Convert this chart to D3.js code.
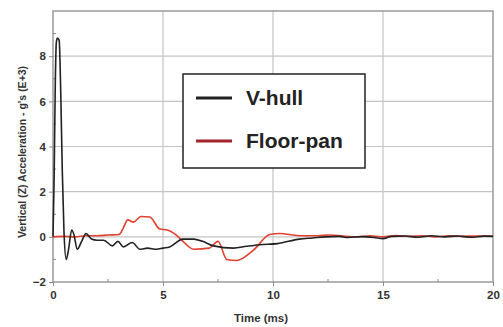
<!DOCTYPE html>
<html>
<head>
<meta charset="utf-8">
<script src="https://cdn.jsdelivr.net/npm/d3@7"></script>
<style>
  body { margin: 0; background: #fff; }
  text { font-family: "Liberation Sans", Arial, sans-serif; }
</style>
</head>
<body>
<svg id="chart" width="503" height="327"></svg>
<script>
// data (time in ms, acceleration in g's E+3)
const xTicks = [0, 5, 10, 15, 20];
const yTicks = [-2, 0, 2, 4, 6, 8];
const seriesNames = ["V-hull", "Floor-pan"];

const vhullT = [0, 0.05, 0.1, 0.15, 0.2, 0.28, 0.35, 0.42, 0.5, 0.6, 0.7, 0.85, 0.95, 1.1, 1.3, 1.5, 1.75, 2.0, 2.3, 2.7, 2.95, 3.2, 3.6, 3.95, 4.3, 4.7, 5.0, 5.3, 5.9, 6.4, 6.8, 7.3, 8.2, 8.8, 9.4, 10.2, 11.2, 11.8, 12.4, 13.0, 13.4, 14.0, 14.6, 15.0, 15.4, 16.0, 16.6, 17.2, 17.8, 18.4, 19.0, 19.6, 20];
const vhullG = [0, 2.5, 6.5, 8.6, 8.8, 8.7, 6.5, 3.0, 0.2, -1.0, -0.6, 0.3, 0.1, -0.55, -0.2, 0.15, -0.1, -0.15, -0.15, -0.4, -0.2, -0.45, -0.25, -0.55, -0.5, -0.55, -0.5, -0.45, -0.1, -0.1, -0.2, -0.4, -0.5, -0.42, -0.35, -0.3, -0.1, -0.05, 0, 0.02, -0.03, 0.01, -0.03, -0.08, 0.02, 0.04, -0.02, 0.05, 0.0, 0.04, -0.02, 0.03, 0.02];

const floorT = [0, 0.5, 1.0, 1.5, 2.0, 2.5, 3.0, 3.2, 3.4, 3.65, 4.0, 4.4, 4.85, 5.2, 5.5, 5.8, 6.4, 7.1, 7.5, 7.9, 8.35, 9.1, 9.85, 10.3, 11.2, 12.0, 12.6, 13.2, 13.8, 14.4, 15.0, 15.6, 16.2, 16.8, 17.4, 18.0, 18.6, 19.2, 20];
const floorG = [0, 0.02, 0, 0.05, 0.05, 0.08, 0.1, 0.4, 0.75, 0.65, 0.9, 0.88, 0.35, 0.3, 0.15, -0.1, -0.55, -0.5, -0.2, -1.0, -1.05, -0.6, 0.1, 0.15, 0.05, 0.05, 0.08, 0.03, 0.0, 0.05, 0.0, 0.06, 0.02, 0.05, 0.0, 0.05, 0.02, 0.04, 0.03];

const svg = d3.select("#chart");
const margin = {left: 53, right: 10, top: 11, bottom: 45};
const W = 503, H = 327;

const x = d3.scaleLinear().domain([0, 20]).range([margin.left, W - margin.right]);
const y = d3.scaleLinear().domain([-2, 10]).range([H - margin.bottom, margin.top]);

// grid
svg.append("g").selectAll("line")
  .data(xTicks.slice(1, -1))
  .enter().append("line")
    .attr("x1", d => x(d)).attr("x2", d => x(d))
    .attr("y1", y(10)).attr("y2", y(-2))
    .attr("stroke", "#c4c4c4").attr("stroke-width", 1.2);

svg.append("g").selectAll("line")
  .data(yTicks.slice(1))
  .enter().append("line")
    .attr("x1", x(0)).attr("x2", x(20))
    .attr("y1", d => y(d)).attr("y2", d => y(d))
    .attr("stroke", "#c4c4c4").attr("stroke-width", 1.2);

// frame
svg.append("rect")
  .attr("x", x(0)).attr("y", y(10))
  .attr("width", x(20) - x(0)).attr("height", y(-2) - y(10))
  .attr("fill", "none").attr("stroke", "#9a9a9a").attr("stroke-width", 1.5);

// axes
const xAxis = d3.axisBottom(x).tickValues(xTicks).tickSize(4).tickPadding(5);
const yAxis = d3.axisLeft(y).tickValues(yTicks).tickSize(4).tickPadding(3);

const gx = svg.append("g").attr("transform", `translate(0,${y(-2)})`).call(xAxis);
const gy = svg.append("g").attr("transform", `translate(${x(0)},0)`).call(yAxis);
[gx, gy].forEach(g => {
  g.select(".domain").remove();
  g.selectAll("line").attr("stroke", "#8a8a8a");
  g.selectAll("text").attr("fill", "#333").attr("font-size", 11.5).attr("font-weight", "bold");
});

// minor ticks inside
svg.append("g").selectAll("line")
  .data(d3.range(2.5, 20, 5))
  .enter().append("line")
    .attr("x1", d => x(d)).attr("x2", d => x(d))
    .attr("y1", y(-2)).attr("y2", y(-2) - 3)
    .attr("stroke", "#8a8a8a");
svg.append("g").selectAll("line")
  .data(d3.range(-1, 10, 2))
  .enter().append("line")
    .attr("x1", x(0)).attr("x2", x(0) + 3)
    .attr("y1", d => y(d)).attr("y2", d => y(d))
    .attr("stroke", "#8a8a8a");

// axis titles
svg.append("text")
  .attr("x", 261).attr("y", 322)
  .attr("text-anchor", "middle")
  .attr("font-size", 11.5).attr("font-weight", "bold").attr("fill", "#333")
  .text("Time (ms)");

svg.append("text")
  .attr("transform", `translate(26,152) rotate(-90)`)
  .attr("text-anchor", "middle")
  .attr("font-size", 10.5).attr("font-weight", "bold").attr("fill", "#333")
  .text("Vertical (Z) Acceleration - g's (E+3)");

// series
const line = d3.line().x(d => x(d[0])).y(d => y(d[1])).curve(d3.curveMonotoneX);

svg.append("path")
  .datum(floorT.map((t, i) => [t, floorG[i]]))
  .attr("d", line)
  .attr("fill", "none").attr("stroke", "#e2402e").attr("stroke-width", 1.6);

svg.append("path")
  .datum(vhullT.map((t, i) => [t, vhullG[i]]))
  .attr("d", line)
  .attr("fill", "none").attr("stroke", "#222").attr("stroke-width", 1.6);

// legend
const leg = svg.append("g").attr("transform", "translate(183,74)");
leg.append("rect")
  .attr("width", 182).attr("height", 94)
  .attr("fill", "#fff").attr("stroke", "#222").attr("stroke-width", 1.5);
const legColors = ["#222", "#a3252a"];
seriesNames.forEach((name, i) => {
  const yy = 24 + i * 43;
  leg.append("line")
    .attr("x1", 13).attr("x2", 49).attr("y1", yy).attr("y2", yy)
    .attr("stroke", legColors[i]).attr("stroke-width", 3);
  leg.append("text")
    .attr("x", 63).attr("y", yy + 7)
    .attr("font-size", 21).attr("font-weight", "bold").attr("fill", "#222")
    .text(name);
});
</script>
</body>
</html>
